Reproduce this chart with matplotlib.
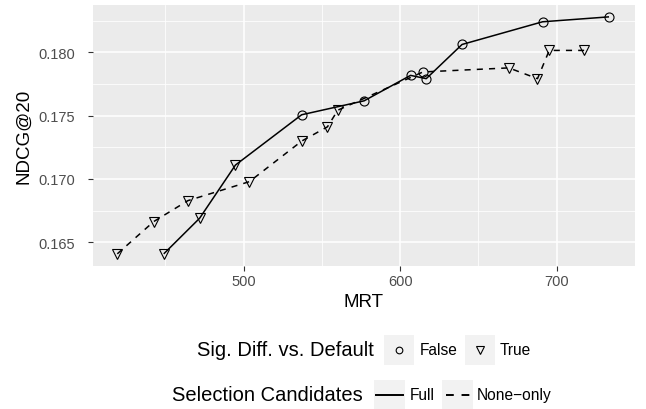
import matplotlib
matplotlib.use("Agg")
import matplotlib.pyplot as plt
from matplotlib.lines import Line2D
from matplotlib.patches import Rectangle
import numpy as np

plt.rcParams["font.family"] = ["Liberation Sans", "DejaVu Sans"]

# data
full_mrt  = [448.9, 471.8, 494.7, 537.0, 576.9, 606.6, 616.6, 639.5, 690.9, 733.4]
full_ndcg = [0.16408, 0.16689, 0.17109, 0.17506, 0.17616, 0.17817, 0.17791, 0.18061, 0.18240, 0.18279]
full_sig  = [True, True, True, False, False, False, False, False, False, False]

none_mrt  = [419.2, 442.5, 464.3, 503.6, 537.0, 553.5, 560.1, 614.5, 669.4, 687.7, 695.2, 717.5]
none_ndcg = [0.16408, 0.16663, 0.16828, 0.16978, 0.17298, 0.17411, 0.17542, 0.17844, 0.17876, 0.17791, 0.18014, 0.18014]
none_sig  = [True, True, True, True, True, True, True, False, True, True, True, True]

x_ticks = [500, 600, 700]
y_ticks = [0.165, 0.170, 0.175, 0.180]

W, H = 646, 410
fig = plt.figure(figsize=(W / 100, H / 100), dpi=100)

def fx(px):
    return px / W

def fy(py):
    return 1 - py / H

ax = fig.add_axes([fx(92.7), fy(266.7), fx(635) - fx(92.7), fy(6) - fy(266.7)])
ax.set_facecolor("#EBEBEB")
for s in ax.spines.values():
    s.set_visible(False)

# lines
ax.plot(full_mrt, full_ndcg, color="black", lw=1.1, solid_capstyle="butt", zorder=3)
ax.plot(none_mrt, none_ndcg, color="black", lw=1.1, dashes=(4, 4), zorder=3)

# points
for xs, ys, sig in [(full_mrt, full_ndcg, full_sig), (none_mrt, none_ndcg, none_sig)]:
    xs = np.array(xs); ys = np.array(ys); sig = np.array(sig)
    ax.plot(xs[~sig], ys[~sig], ls="none", marker="o", ms=6.5, mfc="none", mec="black", mew=0.8, zorder=4)
    ax.plot(xs[sig], ys[sig], ls="none", marker="v", ms=7.5, mfc="none", mec="black", mew=0.8, zorder=4)

# ggplot style 5% expansion
allx = full_mrt + none_mrt
ally = full_ndcg + none_ndcg
dx = (max(allx) - min(allx)) * 0.05
dy = (max(ally) - min(ally)) * 0.05
ax.set_xlim(min(allx) - dx, max(allx) + dx)
ax.set_ylim(min(ally) - dy, max(ally) + dy)

ax.set_xticks(x_ticks)
ax.set_yticks(y_ticks)
ax.set_yticklabels(["%.3f" % v for v in y_ticks])
ax.set_xticks([450, 550, 650, 750], minor=True)
ax.set_yticks([0.1675, 0.1725, 0.1775, 0.1825], minor=True)
ax.grid(True, which="major", color="white", lw=1.1)
ax.grid(True, which="minor", color="white", lw=0.55)
ax.set_axisbelow(True)
ax.tick_params(which="major", length=3.8, width=0.8, color="#333333", labelcolor="#4D4D4D", labelsize=10.5)
ax.tick_params(axis="y", pad=9)
ax.tick_params(axis="x", pad=2.5)
ax.tick_params(which="minor", length=0)

ax.set_xlabel("MRT", fontsize=13.5, labelpad=3)
ax.set_ylabel("NDCG@20", fontsize=13.5, labelpad=4)

# legends (ggplot style, bottom, title on the left)
def key_box(x0, x1, yc):
    h = x1 - x0
    fig.add_artist(Rectangle((fx(x0), fy(yc + h / 2)), fx(x1) - fx(x0), fy(yc - h / 2) - fy(yc + h / 2),
                             transform=fig.transFigure, facecolor="#F2F2F2", edgecolor="none"))

row1 = 351
fig.text(fx(374), fy(row1), "Sig. Diff. vs. Default", ha="right", va="center", fontsize=14.5)
key_box(384, 414, row1)
fig.add_artist(Line2D([fx(399)], [fy(row1)], transform=fig.transFigure, ls="none", marker="o",
                      ms=4.8, mfc="none", mec="black", mew=0.8))
fig.text(fx(420), fy(row1), "False", ha="left", va="center", fontsize=11.2)
key_box(465, 495, row1)
fig.add_artist(Line2D([fx(480)], [fy(row1)], transform=fig.transFigure, ls="none", marker="v",
                      ms=6, mfc="none", mec="black", mew=0.8))
fig.text(fx(500), fy(row1), "True", ha="left", va="center", fontsize=11.2)

row2 = 396
fig.text(fx(363), fy(row2), "Selection Candidates", ha="right", va="center", fontsize=14.5)
key_box(374, 405, row2)
fig.add_artist(Line2D([fx(376), fx(403)], [fy(row2), fy(row2)], transform=fig.transFigure,
                      color="black", lw=1.4))
fig.text(fx(410), fy(row2), "Full", ha="left", va="center", fontsize=11.2)
key_box(442, 473, row2)
fig.add_artist(Line2D([fx(446), fx(470)], [fy(row2), fy(row2)], transform=fig.transFigure,
                      color="black", lw=1.4, dashes=(4, 4)))
fig.text(fx(477), fy(row2), "None\u2212only", ha="left", va="center", fontsize=11.2)

fig.savefig("out.png", dpi=100)
